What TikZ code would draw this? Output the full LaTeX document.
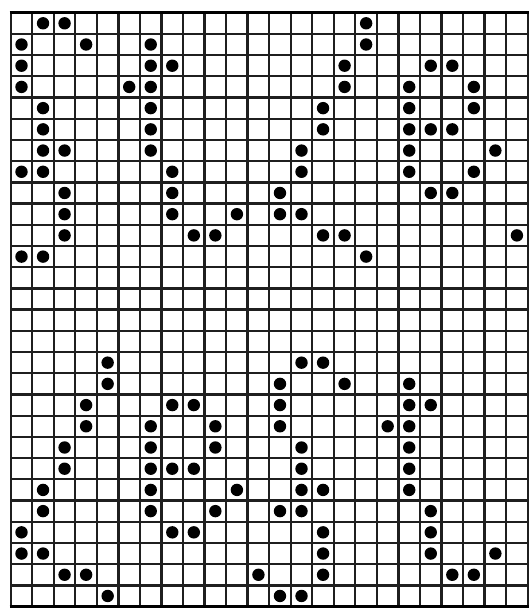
\documentclass[tikz,border=0pt]{standalone}
\begin{document}
\begin{tikzpicture}[x=1pt,y=-1pt,
  gridline/.style={line width=2.3pt,draw=black!88},
  frameline/.style={line width=3.6pt,draw=black},
  dotmark/.style={fill=black}]
\fill[white] (0,0) rectangle (531,610);
\useasboundingbox (0,0) rectangle (531,610);
% grid
\foreach \i in {0,...,24} {
  \draw[gridline] ({10.7+21.54*\i},12.7) -- ({10.7+21.54*\i},606.6);
}
\foreach \j in {0,...,28} {
  \draw[gridline] (10.7,{12.7+21.21*\j}) -- (527.7,{12.7+21.21*\j});
}
\draw[frameline] (9.6,12.7) -- (528.8,12.7);
\draw[frameline] (9.6,606.6) -- (528.8,606.6);
% dots: row / list of columns
\foreach \r/\cs in {
  0/{1,2,16},
  1/{0,3,6,16},
  2/{0,6,7,15,19,20},
  3/{0,5,6,15,18,21},
  4/{1,6,14,18,21},
  5/{1,6,14,18,19,20},
  6/{1,2,6,13,18,22},
  7/{0,1,7,13,18,21},
  8/{2,7,12,19,20},
  9/{2,7,10,12,13},
  10/{2,8,9,14,15,23},
  11/{0,1,16},
  16/{4,13,14},
  17/{4,12,15,18},
  18/{3,7,8,12,18,19},
  19/{3,6,9,12,17,18},
  20/{2,6,9,13,18},
  21/{2,6,7,8,13,18},
  22/{1,6,10,13,14,18},
  23/{1,6,9,12,13,19},
  24/{0,7,8,14,19},
  25/{0,1,14,19,22},
  26/{2,3,11,14,20,21},
  27/{4,12,13}} {
  \foreach \c in \cs {
    \fill[dotmark] ({21.5+21.54*\c},{23.3+21.21*\r}) circle[radius=6.2pt];
  }
}
\end{tikzpicture}
\end{document}
